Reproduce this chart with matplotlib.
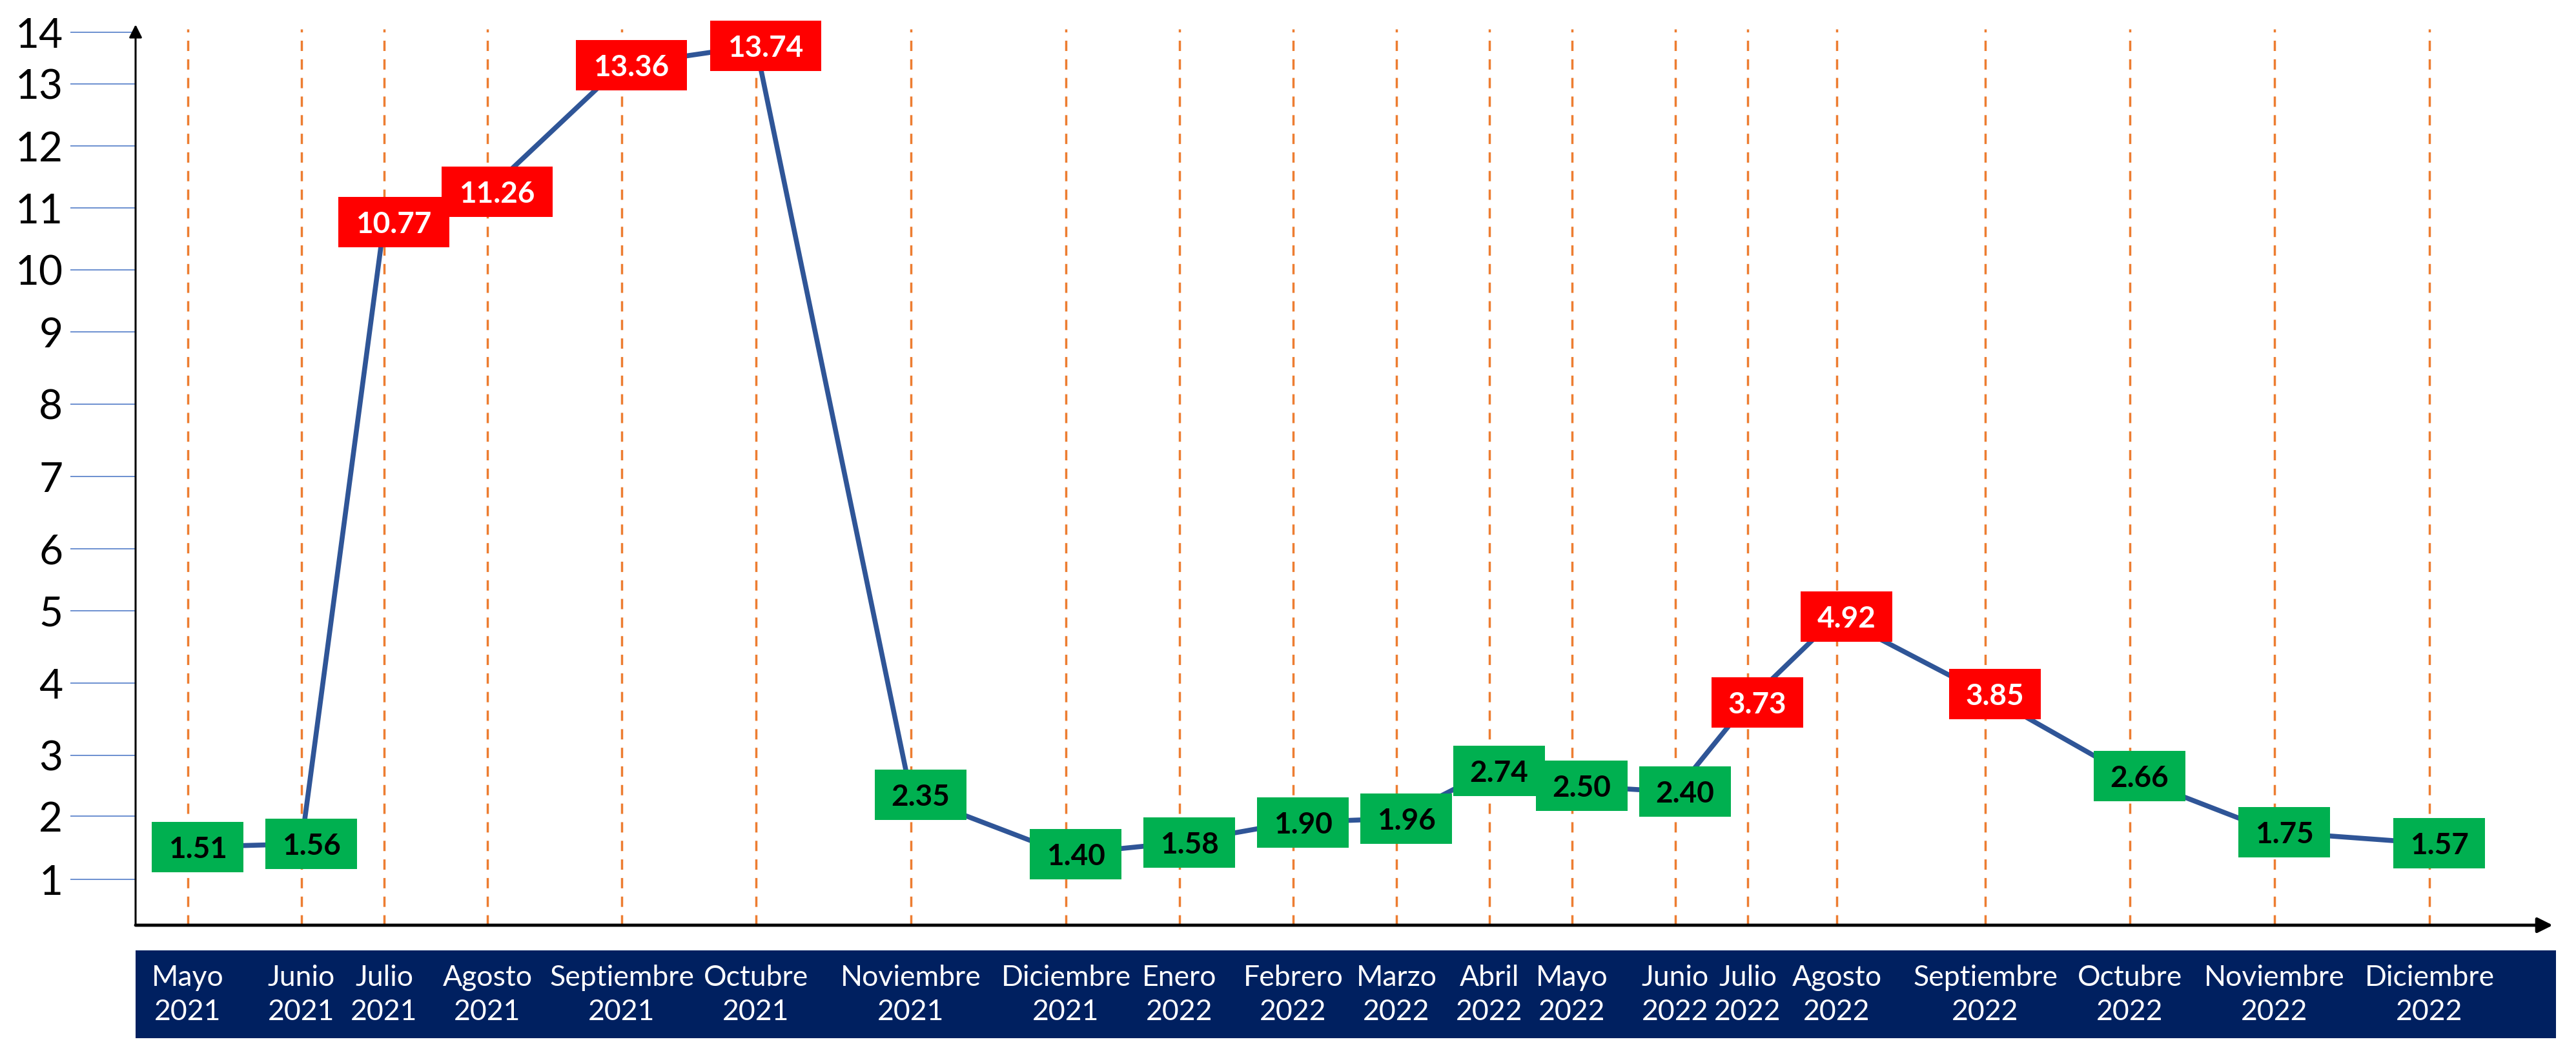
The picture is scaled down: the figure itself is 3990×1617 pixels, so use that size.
import numpy as np
import matplotlib
matplotlib.use('Agg')
import matplotlib.pyplot as plt
from matplotlib.patches import Rectangle
from matplotlib.text import Text
from matplotlib.offsetbox import DrawingArea, AnnotationBbox

plt.rcParams['font.family'] = ['Lato', 'DejaVu Sans']

meses = ['Mayo', 'Junio', 'Julio', 'Agosto', 'Septiembre', 'Octubre', 'Noviembre', 'Diciembre',
         'Enero', 'Febrero', 'Marzo', 'Abril', 'Mayo', 'Junio', 'Julio', 'Agosto', 'Septiembre',
         'Octubre', 'Noviembre', 'Diciembre']
anios = ['2021'] * 8 + ['2022'] * 12
valores = [1.51, 1.56, 10.77, 11.26, 13.36, 13.74, 2.35, 1.40, 1.58, 1.90,
           1.96, 2.74, 2.50, 2.40, 3.73, 4.92, 3.85, 2.66, 1.75, 1.57]
y_ticks = list(range(1, 15))
umbral = 3  # above this the box is red

# the original is hand drawn: columns and rows are not evenly spaced,
# so both axes use a piecewise scale anchored on the pixel positions of the picture
W, H = 3991, 1617
col_idx = [-0.5] + list(range(len(meses))) + [len(meses)]
col_px = [210, 291, 467, 595, 755, 963, 1171, 1411, 1651, 1827, 2003, 2163, 2307,
          2435, 2595, 2707, 2845, 3075, 3299, 3523, 3763, 3954]
row_val = [0.28] + y_ticks + [14.15]
row_px = [1433, 1362, 1264, 1170, 1058, 946, 850, 738, 626, 514, 418, 322, 226, 130, 50, 38]
neg_row_px = [-p for p in row_px]

fig = plt.figure(figsize=(W / 100, H / 100), dpi=100)
ax = fig.add_axes([col_px[0] / W, 1 - row_px[0] / H,
                   (col_px[-1] - col_px[0]) / W, (row_px[0] - row_px[-1]) / H])

ax.set_xscale('function', functions=(lambda v: np.interp(v, col_idx, col_px),
                                     lambda p: np.interp(p, col_px, col_idx)))
ax.set_yscale('function', functions=(lambda v: np.interp(v, row_val, neg_row_px),
                                     lambda p: np.interp(p, neg_row_px, row_val)))
ax.set_xlim(col_idx[0], col_idx[-1])
ax.set_ylim(row_val[0], row_val[-1])

x = np.arange(len(meses))

# orange dashed month guides
for xi in x:
    ax.axvline(xi, ymin=0, ymax=0.995, color='#ED7D31', lw=2.5, dashes=(4.6, 3.7), zorder=1)

ax.plot(x, valores, color='#2F5597', lw=5.5, zorder=3, solid_joinstyle='round', clip_on=False)

# value boxes
px2pt = 72 / 100
for xi, v in zip(x, valores):
    txt = f'{v:.2f}'
    w = (30 * len(txt) + 22) * px2pt
    h = 78 * px2pt
    rojo = v > umbral
    da = DrawingArea(w, h, 0, 0)
    da.add_artist(Rectangle((0, 0), w, h, facecolor='#FF0000' if rojo else '#00B050', edgecolor='none'))
    da.add_artist(Text(w / 2, h / 2, txt, ha='center', va='center_baseline', fontsize=33,
                       fontweight='bold', color='white' if rojo else 'black'))
    ab = AnnotationBbox(da, (xi, v), xycoords='data', xybox=(15 * px2pt, 0), boxcoords='offset points',
                        frameon=False, pad=0, box_alignment=(0.5, 0.5), annotation_clip=False)
    ab.set_zorder(4)
    ax.add_artist(ab)

# axes with arrows
for s in ax.spines.values():
    s.set_visible(False)
ax.annotate('', xy=(0, 1), xytext=(0, 0), xycoords='axes fraction',
            arrowprops=dict(arrowstyle='-|>,head_length=0.6,head_width=0.3', mutation_scale=20,
                            lw=2.2, color='black', shrinkA=0, shrinkB=0), annotation_clip=False)
ax.annotate('', xy=(1, 0), xytext=(0, 0), xycoords='axes fraction',
            arrowprops=dict(arrowstyle='-|>,head_length=0.7,head_width=0.35', mutation_scale=20,
                            lw=3.5, color='black', shrinkA=0, shrinkB=0), annotation_clip=False)

ax.set_yticks(y_ticks)
ax.tick_params(axis='y', length=73, width=1.1, color='#4472C4', pad=8, labelsize=46)

ax.set_xticks(x, [f'{m}\n{a}' for m, a in zip(meses, anios)])
ax.tick_params(axis='x', length=0, pad=44, labelsize=32, labelcolor='white')
for t in ax.get_xticklabels():
    t.set_linespacing(1.35)
    t.set_multialignment('center')

# navy band behind the month labels
fig.add_artist(Rectangle((210 / W, 1 - 1608 / H), (3959 - 210) / W, (1608 - 1472) / H,
                         transform=fig.transFigure, facecolor='#002060', edgecolor='none', zorder=-1))

fig.savefig('out.png', dpi=100)
